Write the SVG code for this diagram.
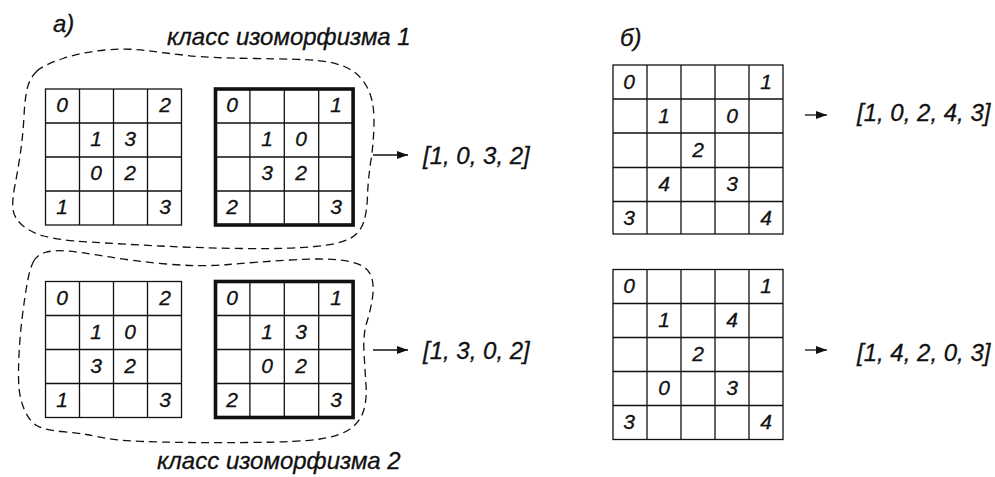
<svg xmlns="http://www.w3.org/2000/svg" width="995" height="477" viewBox="0 0 995 477">
<style>
.t{font-family:"Liberation Sans",Arial,sans-serif;font-style:italic;fill:#111;stroke:#111;stroke-width:0.3}
.lab{font-size:24px}
.d{font-size:21px;text-anchor:middle}
.g{fill:none;stroke:#111;stroke-width:1.3}
.gb{fill:none;stroke:#111;stroke-width:3.6}
.blob{fill:none;stroke:#111;stroke-width:1.3;stroke-dasharray:8 5}
.arr{stroke:#111;stroke-width:1.3;fill:none}
</style>
<defs>
<marker id="ah" markerUnits="userSpaceOnUse" markerWidth="12" markerHeight="10" refX="11" refY="5" orient="auto">
<path d="M0,1 L11,5 L0,9 Z" fill="#111"/>
</marker>
</defs>
<rect width="995" height="477" fill="#fff"/>

<g id="labels">
<text class="t lab" x="53" y="32">а)</text>
<text class="t lab" x="167" y="45">класс изоморфизма 1</text>
<text class="t lab" x="157" y="469">класс изоморфизма 2</text>
<text class="t lab" x="620" y="46">б)</text>
</g>

<g id="class1">
<path class="blob" d="M36.5,71.5 Q43,65 63,58.5 Q83,52 105,50 Q127,48 146,50.5 Q165,53 187.5,55.5 Q210,58 255,58.5 Q300,59 317.5,60.5 Q335,62 347.5,68 Q360,74 367,87 Q374,100 374,120 Q374,140 371,160 Q368,180 367.5,196 Q367,212 363.5,222.5 Q360,233 350,238.5 Q340,244 315,246.5 Q290,249 245,248.5 Q200,248 160,246 Q120,244 88.5,242 Q57,240 43.5,236 Q30,232 22,225 Q14,218 13,209 Q12,200 15,185 Q18,170 20.5,152.5 Q23,135 24,116 Q25,97 27.5,87.5 Q30,78 36.5,71.5 Z"/>
</g>
<g id="class2">
<path class="blob" d="M33.5,261.5 Q37,255 45,252.5 Q53,250 66.5,251 Q80,252 106.5,256.5 Q133,261 166.5,264 Q200,267 228.5,264.5 Q257,262 290,260 Q323,258 340,260 Q357,262 364,267 Q371,272 372.5,281 Q374,290 372,301 Q370,312 366.5,323.5 Q363,335 364,352.5 Q365,370 366,385 Q367,400 363.5,411 Q360,422 350,429 Q340,436 320,439 Q300,442 250,442.5 Q200,443 160,442 Q120,441 107.5,438.5 Q95,436 86.5,434.5 Q78,433 61.5,431.5 Q45,430 37.5,426 Q30,422 25,411 Q20,400 19,387.5 Q18,375 19,355 Q20,335 22.5,315 Q25,295 27.5,281.5 Q30,268 33.5,261.5 Z"/>
</g>

<g id="gridA">
<rect class="g" x="45.5" y="89" width="136" height="136"/>
<path class="g" d="M79.5,89V225M113.5,89V225M147.5,89V225M45.5,123H181.5M45.5,157H181.5M45.5,191H181.5"/>
<text class="t d" x="62" y="112">0</text><text class="t d" x="165" y="112">2</text>
<text class="t d" x="96" y="146">1</text><text class="t d" x="130" y="146">3</text>
<text class="t d" x="96" y="180">0</text><text class="t d" x="130" y="180">2</text>
<text class="t d" x="62" y="214">1</text><text class="t d" x="165" y="214">3</text>
</g>

<g id="gridB">
<path class="g" d="M249.9,89V225M284.3,89V225M318.7,89V225M215.5,123H353M215.5,157H353M215.5,191H353"/>
<rect class="gb" x="215.5" y="89" width="137.6" height="136"/>
<text class="t d" x="232" y="112">0</text><text class="t d" x="336" y="112">1</text>
<text class="t d" x="267" y="146">1</text><text class="t d" x="301" y="146">0</text>
<text class="t d" x="267" y="180">3</text><text class="t d" x="301" y="180">2</text>
<text class="t d" x="232" y="214">2</text><text class="t d" x="336" y="214">3</text>
</g>

<g id="gridC">
<rect class="g" x="45.5" y="281.5" width="136" height="136"/>
<path class="g" d="M79.5,281.5V417.5M113.5,281.5V417.5M147.5,281.5V417.5M45.5,315.5H181.5M45.5,349.5H181.5M45.5,383.5H181.5"/>
<text class="t d" x="62" y="304.5">0</text><text class="t d" x="165" y="304.5">2</text>
<text class="t d" x="96" y="338.5">1</text><text class="t d" x="130" y="338.5">0</text>
<text class="t d" x="96" y="372.5">3</text><text class="t d" x="130" y="372.5">2</text>
<text class="t d" x="62" y="406.5">1</text><text class="t d" x="165" y="406.5">3</text>
</g>

<g id="gridD">
<path class="g" d="M249.9,281.5V417.5M284.3,281.5V417.5M318.7,281.5V417.5M215.5,315.5H353M215.5,349.5H353M215.5,383.5H353"/>
<rect class="gb" x="215.5" y="281.5" width="137.6" height="136"/>
<text class="t d" x="232" y="304.5">0</text><text class="t d" x="336" y="304.5">1</text>
<text class="t d" x="267" y="338.5">1</text><text class="t d" x="301" y="338.5">3</text>
<text class="t d" x="267" y="372.5">0</text><text class="t d" x="301" y="372.5">2</text>
<text class="t d" x="232" y="406.5">2</text><text class="t d" x="336" y="406.5">3</text>
</g>

<g id="gridE">
<rect class="g" x="613" y="65" width="170" height="169"/>
<path class="g" d="M647,65V234M681,65V234M715,65V234M749,65V234M613,99H783M613,133H783M613,167.5H783M613,201.5H783"/>
<text class="t d" x="629" y="89">0</text><text class="t d" x="766" y="89">1</text>
<text class="t d" x="664" y="123">1</text><text class="t d" x="732" y="123">0</text>
<text class="t d" x="698" y="157">2</text>
<text class="t d" x="664" y="191">4</text><text class="t d" x="732" y="191">3</text>
<text class="t d" x="629" y="225">3</text><text class="t d" x="766" y="225">4</text>
</g>

<g id="gridF">
<rect class="g" x="613" y="269.5" width="170" height="170"/>
<path class="g" d="M647,269.5V439.5M681,269.5V439.5M715,269.5V439.5M749,269.5V439.5M613,303.5H783M613,337.5H783M613,371.5H783M613,405.5H783"/>
<text class="t d" x="629" y="293">0</text><text class="t d" x="766" y="293">1</text>
<text class="t d" x="664" y="327">1</text><text class="t d" x="732" y="327">4</text>
<text class="t d" x="698" y="361">2</text>
<text class="t d" x="664" y="395">0</text><text class="t d" x="732" y="395">3</text>
<text class="t d" x="629" y="429">3</text><text class="t d" x="766" y="429">4</text>
</g>

<g id="connectors">
<line class="arr" x1="373" y1="155" x2="408" y2="155" marker-end="url(#ah)"/>
<line class="arr" x1="373" y1="350" x2="408" y2="350" marker-end="url(#ah)"/>
<line class="arr" x1="805" y1="115" x2="827" y2="115" marker-end="url(#ah)"/>
<line class="arr" x1="805" y1="350" x2="827" y2="350" marker-end="url(#ah)"/>
</g>

<g id="results">
<text class="t lab" x="423" y="164">[1, 0, 3, 2]</text>
<text class="t lab" x="423" y="359">[1, 3, 0, 2]</text>
<text class="t lab" x="857" y="121">[1, 0, 2, 4, 3]</text>
<text class="t lab" x="857" y="361">[1, 4, 2, 0, 3]</text>
</g>
</svg>
